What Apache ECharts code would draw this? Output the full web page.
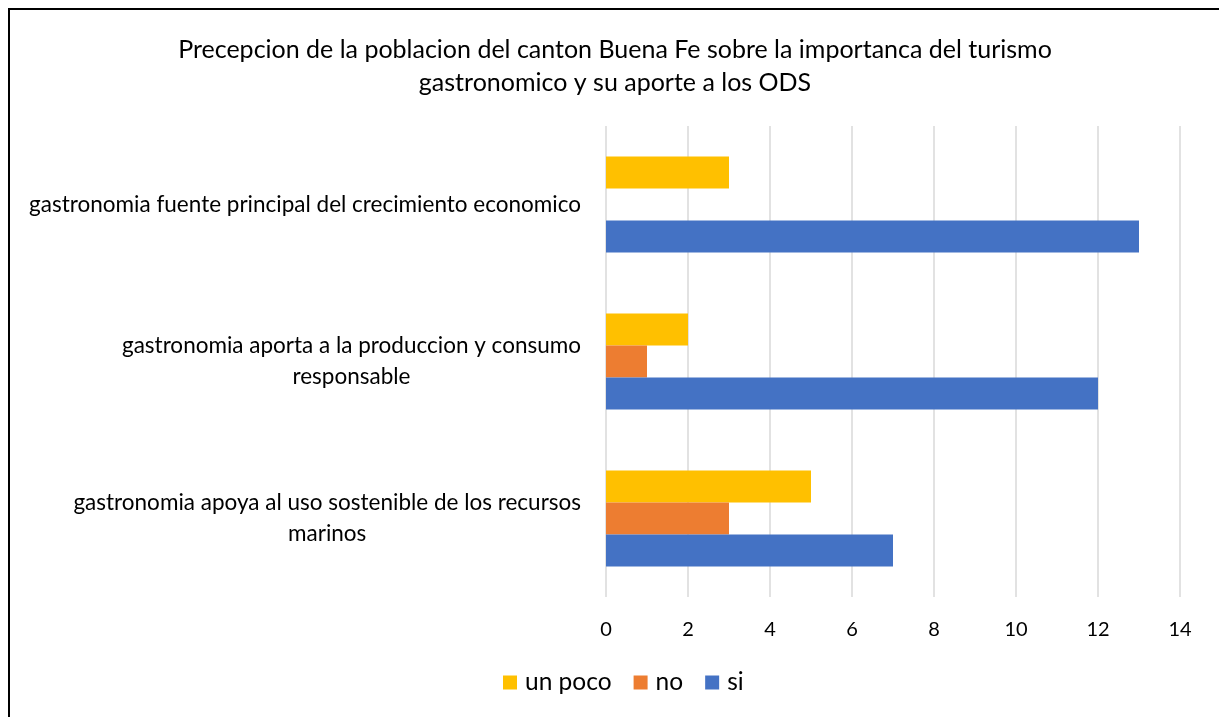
<!DOCTYPE html>
<html>
<head>
<meta charset="utf-8">
<script src="https://cdn.jsdelivr.net/npm/echarts@6/dist/echarts.min.js"></script>
<style>
  html, body { margin: 0; padding: 0; background: #fff; }
  #frame {
    position: absolute; left: 8px; top: 8px; width: 1220px; height: 720px;
    border-left: 2px solid #000; border-top: 2px solid #000; box-sizing: border-box;
  }
  #chart { position: absolute; left: 0; top: 0; width: 1219px; height: 717px; }
</style>
</head>
<body>
<div id="frame"></div>
<div id="chart"></div>
<script>
// categorias de abajo hacia arriba (orden del eje en echarts)
const categories = [
  "gastronomia apoya al uso sostenible de los recursos\nmarinos",
  "gastronomia aporta a la produccion y consumo\nresponsable",
  "gastronomia fuente principal del crecimiento economico"
]
const siData = [7, 12, 13]
const noData = [3, 1, 0]
const unPocoData = [5, 2, 3]
const legendNames = ["un poco", "no", "si"]
const xTicks = [0, 2, 4, 6, 8, 10, 12, 14]

const font = "Lato, 'Liberation Sans', sans-serif"
const chart = echarts.init(document.getElementById("chart"))

const option = {
  animation: false,
  title: {
    text: "Precepcion de la poblacion del canton Buena Fe sobre la importanca del turismo\ngastronomico y su aporte a los ODS",
    left: 610,
    textAlign: "center",
    top: 28,
    textStyle: {
      fontFamily: font,
      fontSize: 25,
      fontWeight: "normal",
      color: "#000",
      lineHeight: 33
    }
  },
  legend: {
    data: legendNames,
    bottom: 17,
    left: 498,
    itemWidth: 14,
    itemHeight: 14,
    itemGap: 22,
    icon: "rect",
    textStyle: { fontFamily: font, fontSize: 24.5, color: "#000", padding: [0, 0, 0, 3] }
  },
  grid: {
    left: 606,
    right: 39,
    top: 126,
    bottom: 120,
    containLabel: false
  },
  xAxis: {
    type: "value",
    min: xTicks[0],
    max: xTicks[xTicks.length - 1],
    interval: 2,
    axisLine: { show: false },
    axisTick: { show: false },
    axisLabel: {
      margin: 23,
      fontFamily: font,
      fontSize: 20,
      color: "#000"
    },
    splitLine: { lineStyle: { color: "#d9d9d9", width: 1.5 } }
  },
  yAxis: {
    type: "category",
    data: categories,
    axisLine: { show: false },
    axisTick: { show: false },
    axisLabel: {
      margin: 25,
      formatter: (val) => val.split("\n").map(s => "{c|" + s + "}").join("\n"),
      rich: {
        c: {
          align: "center",
          fontFamily: font,
          fontSize: 22.5,
          lineHeight: 31,
          color: "#000"
        }
      }
    }
  },
  series: [
    {
      name: "un poco",
      type: "bar",
      data: unPocoData,
      barGap: "0%",
      barCategoryGap: "39%",
      itemStyle: { color: "#ffc000" }
    },
    {
      name: "no",
      type: "bar",
      data: noData,
      barGap: "0%",
      barCategoryGap: "39%",
      itemStyle: { color: "#ed7d31" }
    },
    {
      name: "si",
      type: "bar",
      data: siData,
      barGap: "0%",
      barCategoryGap: "39%",
      itemStyle: { color: "#4472c4" }
    }
  ]
}

chart.setOption(option)
</script>
</body>
</html>
